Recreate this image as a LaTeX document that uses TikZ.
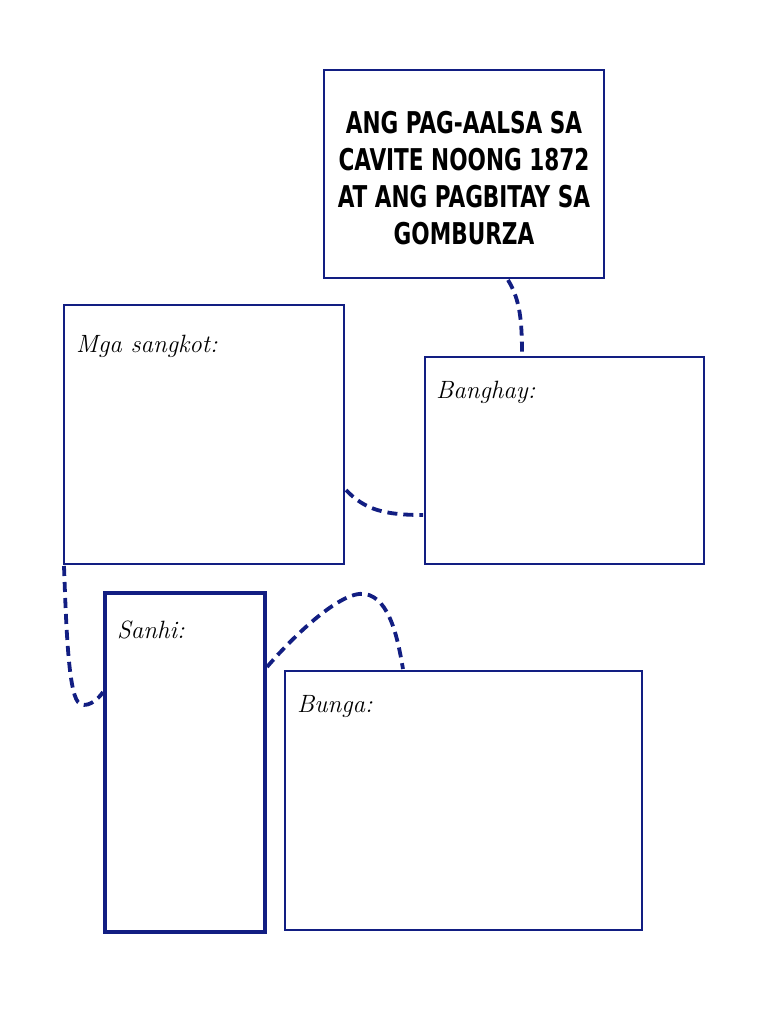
\documentclass[tikz,border=0pt]{standalone}
\usepackage{fontspec}
\newfontfamily\titlefont{DejaVu Sans Condensed}
\usetikzlibrary{calc}
\definecolor{navy}{RGB}{18,30,130}
\begin{document}
\begin{tikzpicture}[x=1pt,y=-1pt,
  box/.style={draw=navy,line width=2.8pt,fill=white},
  thickbox/.style={draw=navy,line width=3.8pt},
  link/.style={draw=navy,line width=3.8pt,dash pattern=on 10pt off 6pt},
  lab/.style={anchor=base west,font=\fontsize{25}{30}\selectfont\itshape,inner sep=0pt},
  ttl/.style={font=\titlefont\bfseries\fontsize{30}{37}\selectfont,align=center,inner sep=0pt}]
\useasboundingbox (0,0) rectangle (768,1024);
\fill[white] (0,0) rectangle (768,1024);
% boxes
\draw[box] (324,70) rectangle (604,278);
\coordinate (titleS) at (508,280);
\draw[box] (64,305) rectangle (344,564);
\draw[box] (425,357) rectangle (704,564);
\draw[thickbox] (105,593) rectangle (265,932);
\draw[box] (285,671) rectangle (642,930);
% nodes
\node[ttl,xscale=0.8] (title) at (464,178) {ANG PAG-AALSA SA\\CAVITE NOONG 1872\\AT ANG PAGBITAY SA\\GOMBURZA};
\node[lab] (mga) at (76,352) {Mga sangkot:};
\node[lab] (banghay) at (436,398) {Banghay:};
\node[lab] (sanhi) at (117,638) {Sanhi:};
\node[lab] (bunga) at (297,712) {Bunga:};
% connector endpoints
\coordinate (mgaE) at (346,490);
\coordinate (mgaSW) at (64,566);
\coordinate (banghayN) at (522,355);
\coordinate (banghayW) at (423,515);
\coordinate (sanhiW) at (103,692);
\coordinate (sanhiE) at (267,667);
\coordinate (bungaN) at (403,669);
% connectors
\draw[link] (titleS) .. controls (520,300) and (522,320) .. (banghayN);
\draw[link] (mgaE) .. controls (365,510) and (385,515) .. (banghayW);
\draw[link] (mgaSW) .. controls (66,620) and (68,690) .. (78,702) .. controls (85,710) and (98,700) .. (sanhiW);
\draw[link] (sanhiE) .. controls (290,640) and (340,590) .. (365,594) .. controls (390,598) and (398,640) .. (bungaN);
\end{tikzpicture}
\end{document}
